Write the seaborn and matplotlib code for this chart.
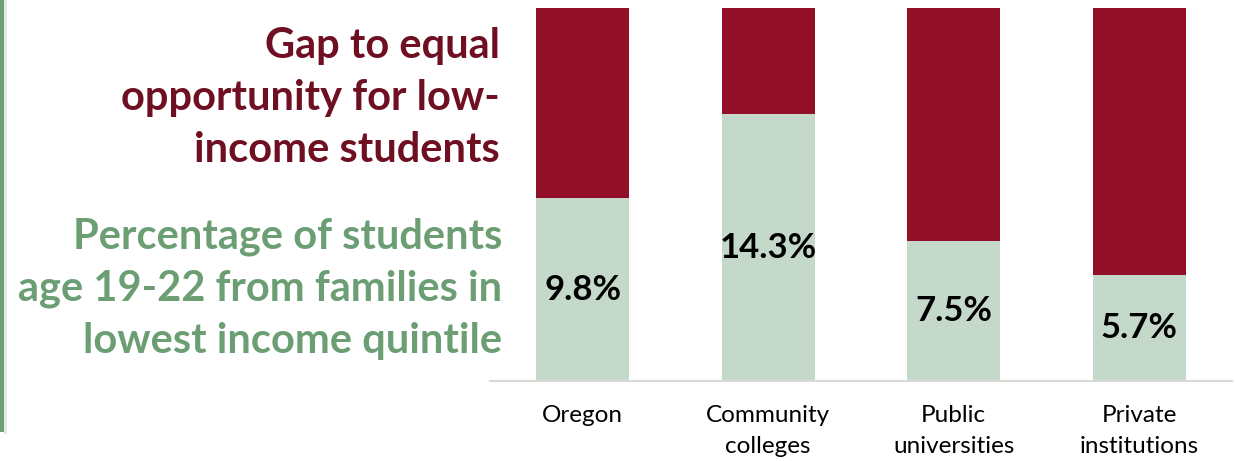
import matplotlib
matplotlib.use("Agg")
import matplotlib.pyplot as plt
import seaborn as sns
import pandas as pd
from matplotlib.patches import Rectangle

# Data: share of students age 19-22 from lowest income quintile (%)
categories = ["Oregon", "Community\ncolleges", "Public\nuniversities", "Private\ninstitutions"]
low_income_share = [9.8, 14.3, 7.5, 5.7]
equal_opportunity = 20.0  # a fifth of students would come from the lowest quintile
value_labels = ["9.8%", "14.3%", "7.5%", "5.7%"]

RED = "#920f28"
RED_TEXT = "#6e0f22"
GREEN_BAR = "#c5d9cb"
GREEN_TEXT = "#6c9e74"
FONT = ["Lato", "DejaVu Sans"]

sns.set_theme(style="white")
plt.rcParams["font.family"] = FONT

df = pd.DataFrame({
    "category": categories,
    "share": low_income_share,
    "total": [equal_opportunity] * len(categories),
})

fig = plt.figure(figsize=(12.35, 4.61), dpi=100)
ax = fig.add_axes([490 / 1235, 1 - 381 / 461, (1232 - 490) / 1235, (381 - 8) / 461])

# full-height gap bars underneath, actual share on top
sns.barplot(data=df, x="category", y="total", color=RED, width=0.5,
            saturation=1, ax=ax, edgecolor="none")
sns.barplot(data=df, x="category", y="share", color=GREEN_BAR, width=0.5,
            saturation=1, ax=ax, edgecolor="none")

for i, (v, lab) in enumerate(zip(low_income_share, value_labels)):
    ax.text(i, v / 2, lab, ha="center", va="center", fontsize=25,
            fontweight="bold", color="black")

ax.set_xlim(-0.5, len(categories) - 0.5)
ax.set_ylim(0, equal_opportunity)
ax.set_xlabel("")
ax.set_ylabel("")
ax.set_yticks([])
ax.tick_params(axis="x", length=0, pad=17, labelsize=17.5, colors="black")
for lbl in ax.get_xticklabels():
    lbl.set_linespacing(1.6)
for side in ["top", "right", "left"]:
    ax.spines[side].set_visible(False)
ax.spines["bottom"].set_color("#d9d9d9")
ax.spines["bottom"].set_linewidth(1.5)

# side captions
fig.text(500 / 1235, 1 - 98 / 461,
         "Gap to equal\nopportunity for low-\nincome students",
         ha="right", va="center", fontsize=30, fontweight="bold",
         color=RED_TEXT, linespacing=1.44)
fig.text(502 / 1235, 1 - 289 / 461,
         "Percentage of students\nage 19-22 from families in\nlowest income quintile",
         ha="right", va="center", fontsize=30, fontweight="bold",
         color=GREEN_TEXT, linespacing=1.44)

# accent rule along the left edge
fig.add_artist(Rectangle((0, 1 - 432 / 461), 4 / 1235, 432 / 461,
                         transform=fig.transFigure, color=GREEN_TEXT, lw=0))
fig.add_artist(Rectangle((4 / 1235, 1 - 434 / 461), 3 / 1235, 434 / 461,
                         transform=fig.transFigure, color="#e6e6e6", lw=0,
                         zorder=0))

fig.savefig("out.png", dpi=100)
